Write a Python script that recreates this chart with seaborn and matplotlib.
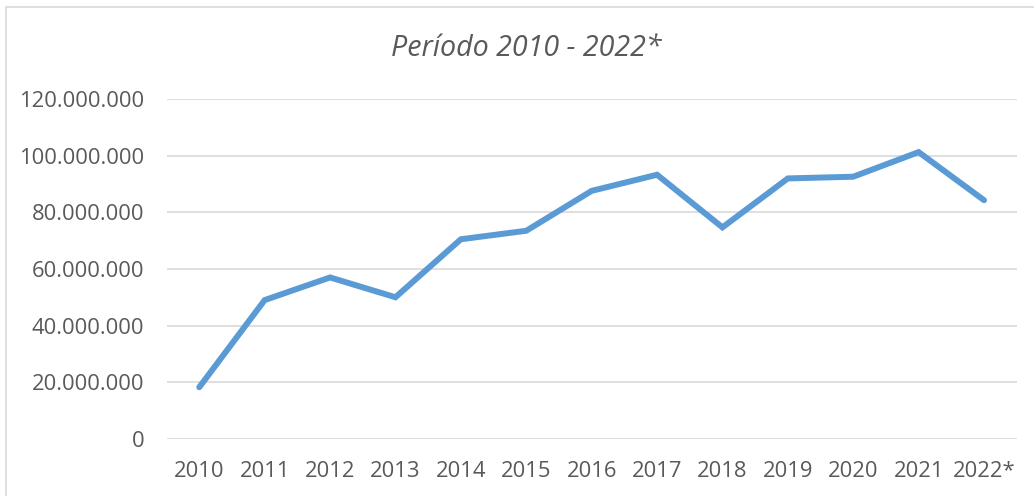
import matplotlib
matplotlib.use('Agg')
import matplotlib.pyplot as plt
from matplotlib.ticker import FuncFormatter
from matplotlib.patches import Rectangle
import seaborn as sns
import pandas as pd

years = ['2010', '2011', '2012', '2013', '2014', '2015', '2016',
         '2017', '2018', '2019', '2020', '2021', '2022*']
valores = [18200000, 49000000, 57000000, 50000000, 70500000, 73500000, 87600000,
           93300000, 74700000, 92000000, 92600000, 101300000, 84300000]
yticks = [0, 20000000, 40000000, 60000000, 80000000, 100000000, 120000000]
titulo = 'Período 2010 - 2022*'

sns.set_style('white')
plt.rcParams['font.family'] = ['Open Sans', 'DejaVu Sans']

df = pd.DataFrame({'pos': range(len(years)), 'valor': valores})

fig = plt.figure(figsize=(10.34, 4.96), dpi=100)
ax = fig.add_axes([0.1611, 0.1155, 0.8222, 0.6845])

# gridlines first so the line sits on top
for t in yticks:
    ax.axhline(t, color='#d9d9d9', linewidth=1.2, zorder=1)

sns.lineplot(data=df, x='pos', y='valor', ax=ax, color='#5b9bd5',
             linewidth=4.3, sort=False, zorder=3)
ax.lines[-1].set_solid_capstyle('round')
ax.lines[-1].set_solid_joinstyle('miter')

ax.set_xlim(-0.5, len(years) - 0.5)
ax.set_ylim(0, 120000000)
ax.set_xticks(range(len(years)))
ax.set_xticklabels(years)
ax.set_yticks(yticks)
ax.yaxis.set_major_formatter(FuncFormatter(lambda v, p: f'{v:,.0f}'.replace(',', '.')))
ax.tick_params(axis='y', length=0, pad=16, labelsize=15.8, labelcolor='#595959')
ax.tick_params(axis='x', length=0, pad=16, labelsize=15.8, labelcolor='#595959')
ax.set_xlabel('')
ax.set_ylabel('')
sns.despine(ax=ax, left=True, bottom=True, top=True, right=True)

fig.text(0.509, 0.903, titulo, ha='center', va='center', fontsize=20.6,
         style='italic', color='#595959')

# chart border
fig.patches.append(Rectangle((5.5 / 1034, -0.1), 1.2, 1 - 6.5 / 496 + 0.1,
                             transform=fig.transFigure, fill=False,
                             edgecolor='#d9d9d9', linewidth=1.2))

fig.savefig('out.png', dpi=100)
